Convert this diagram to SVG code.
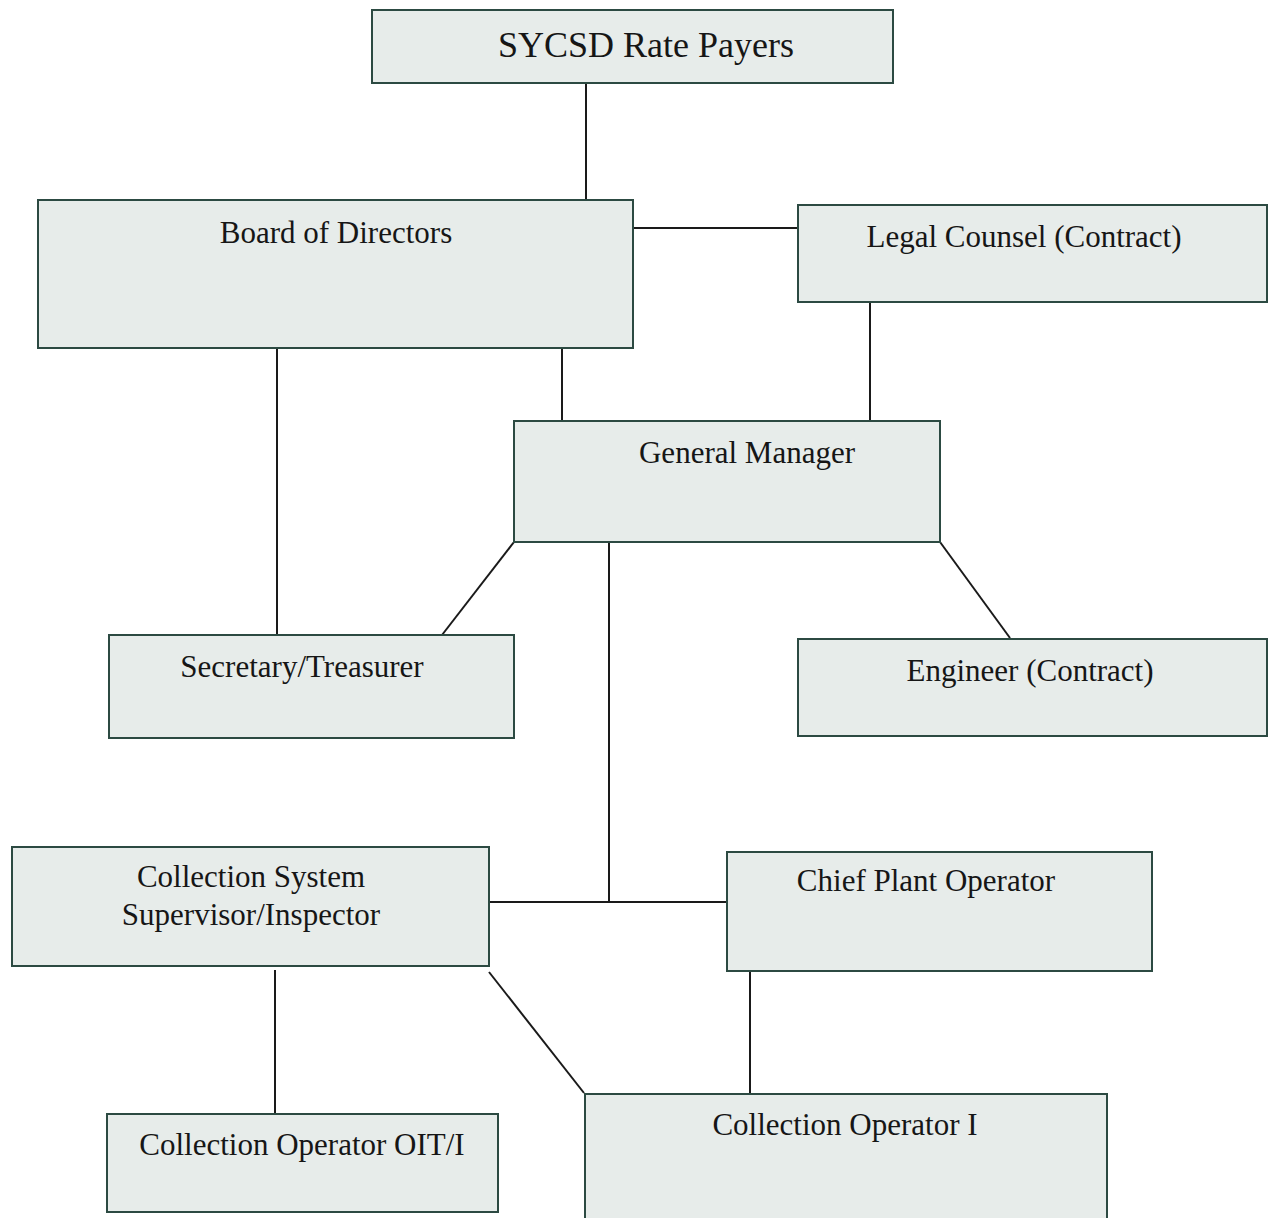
<svg xmlns="http://www.w3.org/2000/svg" width="1269" height="1218" viewBox="0 0 1269 1218">
<style>
.box{fill:#e7ecea;stroke:#2c4a42;stroke-width:2}
.lbl{font-family:"Liberation Serif","Times New Roman",serif;font-size:31px;fill:#161616;text-anchor:middle}
.big{font-size:36px}
.con line{stroke:#1a1a1a;stroke-width:2}
</style>
<rect width="1269" height="1218" fill="#ffffff"/>
<g class="con">
<line x1="586" y1="83" x2="586" y2="200"/>
<line x1="633" y1="228" x2="798" y2="228"/>
<line x1="870" y1="302" x2="870" y2="421"/>
<line x1="562" y1="348" x2="562" y2="421"/>
<line x1="277" y1="348" x2="277" y2="634"/>
<line x1="514" y1="542" x2="442" y2="635"/>
<line x1="940" y1="542" x2="1010" y2="638"/>
<line x1="609" y1="542" x2="609" y2="902"/>
<line x1="489" y1="902" x2="727" y2="902"/>
<line x1="275" y1="970" x2="275" y2="1113"/>
<line x1="489" y1="972" x2="584" y2="1093"/>
<line x1="750" y1="971" x2="750" y2="1093"/>
</g>
<g id="rate-payers"><rect class="box" x="372" y="10" width="521" height="73"/><text class="lbl big" x="646" y="57">SYCSD Rate Payers</text></g>
<g id="board"><rect class="box" x="38" y="200" width="595" height="148"/><text class="lbl" x="336" y="243">Board of Directors</text></g>
<g id="legal"><rect class="box" x="798" y="205" width="469" height="97"/><text class="lbl" x="1024" y="247">Legal Counsel (Contract)</text></g>
<g id="gm"><rect class="box" x="514" y="421" width="426" height="121"/><text class="lbl" x="747" y="463">General Manager</text></g>
<g id="secretary"><rect class="box" x="109" y="635" width="405" height="103"/><text class="lbl" x="302" y="677">Secretary/Treasurer</text></g>
<g id="engineer"><rect class="box" x="798" y="639" width="469" height="97"/><text class="lbl" x="1030" y="681">Engineer (Contract)</text></g>
<g id="collection-supervisor"><rect class="box" x="12" y="847" width="477" height="119"/><text class="lbl" x="251" y="887">Collection System</text><text class="lbl" x="251" y="925">Supervisor/Inspector</text></g>
<g id="chief-plant"><rect class="box" x="727" y="852" width="425" height="119"/><text class="lbl" x="926" y="891">Chief Plant Operator</text></g>
<g id="operator-oit"><rect class="box" x="107" y="1114" width="391" height="98"/><text class="lbl" x="302" y="1155">Collection Operator OIT/I</text></g>
<g id="operator-i"><rect class="box" x="585" y="1094" width="522" height="130"/><text class="lbl" x="845" y="1135">Collection Operator I</text></g>
</svg>
